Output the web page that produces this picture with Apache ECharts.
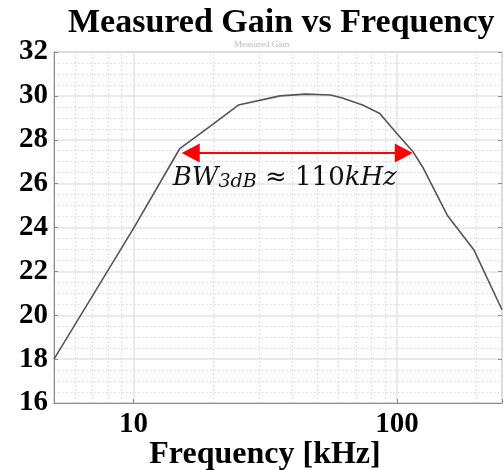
<!DOCTYPE html>
<html>
<head>
<meta charset="utf-8">
<script src="https://cdn.jsdelivr.net/npm/echarts@6/dist/echarts.min.js"></script>
<style>html,body{margin:0;padding:0;background:#fff}#c{width:504px;height:470px}</style>
</head>
<body>
<div id="c"></div>
<script>
// Data (frequency in kHz, gain in dB)
const freqKHz = [5, 10, 15, 20, 25, 36, 45, 56, 62, 74, 86, 100, 115, 125, 155, 196, 250];
const gainDB  = [18.0, 23.95, 27.6, 28.7, 29.58, 30.0, 30.08, 30.04, 29.9, 29.58, 29.2, 28.27, 27.45, 26.76, 24.56, 22.96, 20.25];
const xMajorLabels = [10, 100];
const xMinorGrid = [6, 7, 8, 9, 20, 30, 40, 50, 60, 70, 80, 90, 200];
const bwStart = 16.5, bwEnd = 106, bwLevel = 27.4;
const bwTextPos = [37.5, 26.35];
const yTicks = { min: 16, max: 32, step: 2 };

const serif = '"Liberation Serif", "Times New Roman", serif';
const mathFont = '"DejaVu Serif", serif';
const chart = echarts.init(document.getElementById('c'), null, { renderer: 'canvas' });

const option = {
  backgroundColor: '#fff',
  animation: false,
  title: {
    text: 'Measured Gain vs Frequency',
    left: 68, top: 6, padding: 0,
    textStyle: { fontFamily: serif, fontWeight: 'bold', fontSize: 34, color: '#000' }
  },
  legend: {
    data: ['Measured Gain'],
    left: 228, top: 40, padding: 0,
    itemWidth: 0, itemHeight: 0, itemGap: 0,
    textStyle: { fontSize: 9, color: '#bbb', fontFamily: serif, padding: 0 }
  },
  grid: {
    left: 54, right: 2, top: 52, bottom: 67, outerBoundsMode: 'none', containLabel: false,
    show: true, borderColor: '#8c8c8c', borderWidth: 1, backgroundColor: 'transparent'
  },
  xAxis: {
    type: 'log', logBase: 10, min: 5, max: 250,
    name: 'Frequency [kHz]', nameLocation: 'middle', nameGap: 36, nameMoveOverlap: false,
    nameTextStyle: { fontFamily: serif, fontWeight: 'bold', fontSize: 32, color: '#000', padding: [0, 26, 0, 0] },
    axisLine: { show: true, lineStyle: { color: '#8c8c8c', width: 1 } },
    axisTick: { show: true, inside: true, length: 4, lineStyle: { color: '#8c8c8c' } },
    axisLabel: {
      margin: 7, fontFamily: serif, fontWeight: 'bold', fontSize: 29, color: '#000',
      formatter: v => (xMajorLabels.some(t => Math.abs(t - v) < 1e-6) ? String(v) : '')
    },
    splitLine: { show: true, lineStyle: { color: '#e3e3e3', width: 1.5 } }
  },
  yAxis: [{
    type: 'value', min: yTicks.min, max: yTicks.max, interval: yTicks.step,
    axisLine: { show: true, lineStyle: { color: '#8c8c8c', width: 1 } },
    axisTick: { show: true, inside: true, length: 4, lineStyle: { color: '#8c8c8c' } },
    axisLabel: { margin: 6, fontFamily: serif, fontWeight: 'bold', fontSize: 29, color: '#000' },
    splitLine: { show: true, lineStyle: { color: '#e3e3e3', width: 1.5 } },
    minorTick: { show: false, splitNumber: 4 },
    minorSplitLine: { show: true, lineStyle: { color: '#d6d6d6', type: [1.5, 2.5], width: 1 } }
  }, {
    type: 'value', position: 'right', min: yTicks.min, max: yTicks.max, interval: yTicks.step,
    axisLine: { show: false },
    axisTick: { show: true, inside: true, length: 4, lineStyle: { color: '#8c8c8c' } },
    axisLabel: { show: false }, splitLine: { show: false }
  }],
  series: [
    {
      name: 'Measured Gain', type: 'line',
      data: freqKHz.map((f, i) => [f, gainDB[i]]),
      showSymbol: false, symbol: 'none',
      lineStyle: { color: '#555', width: 1.6 }, itemStyle: { color: '#555' },
      z: 5
    },
    {
      name: 'grid-minor', type: 'line', data: [], silent: true,
      markLine: {
        silent: true, symbol: ['none', 'none'], animation: false,
        label: { show: false },
        lineStyle: { color: '#d6d6d6', type: [1.5, 2.5], width: 1 },
        data: xMinorGrid.map(v => ({ xAxis: v }))
      },
      z: 1
    },
    {
      name: 'bandwidth', type: 'line', data: [], silent: true,
      markLine: {
        silent: true, animation: false,
        symbol: ['triangle', 'triangle'], symbolSize: [19, 18],
        label: { show: false },
        lineStyle: { color: '#ff0000', type: 'solid', width: 2 },
        itemStyle: { color: '#ff0000' },
        data: [[{ coord: [bwStart, bwLevel] }, { coord: [bwEnd, bwLevel] }]]
      },
      markPoint: {
        silent: true, animation: false, symbol: 'circle', symbolSize: 0,
        label: {
          show: true, position: 'inside',
          formatter: '{i|BW}{s|3dB}{n| ≈ 110}{i|kHz}',
          rich: {
            i: { fontFamily: mathFont, fontStyle: 'italic', fontSize: 26, color: '#111', verticalAlign: 'bottom' },
            s: { fontFamily: mathFont, fontStyle: 'italic', fontSize: 19, color: '#111', padding: [12, 0, 0, 0], verticalAlign: 'bottom' },
            n: { fontFamily: mathFont, fontSize: 26, color: '#111', verticalAlign: 'bottom' }
          }
        },
        data: [{ coord: bwTextPos }]
      },
      z: 6
    }
  ]
};
chart.setOption(option);
</script>
</body>
</html>
